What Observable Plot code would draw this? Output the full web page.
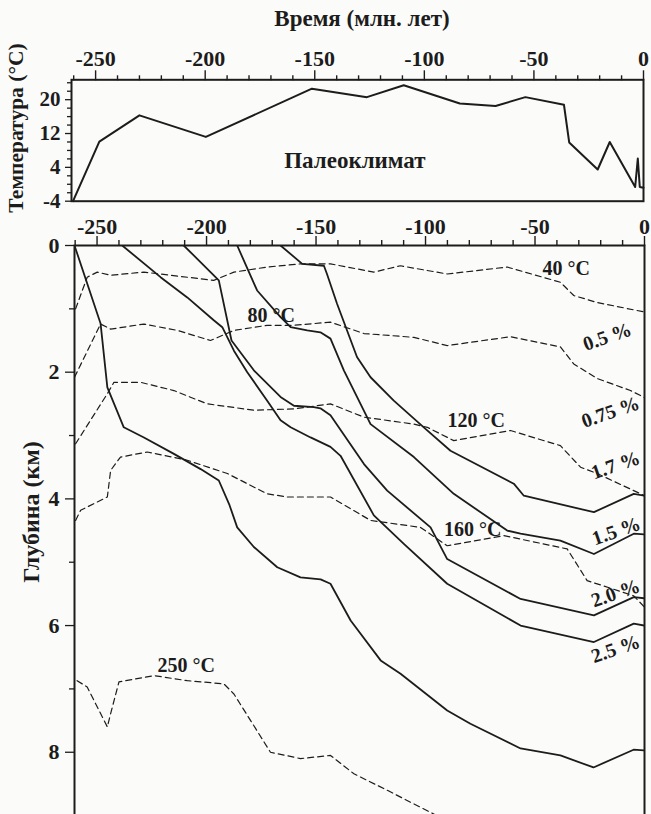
<!DOCTYPE html>
<html><head><meta charset="utf-8">
<script src="https://cdn.jsdelivr.net/npm/d3@7"></script>
<script src="https://cdn.jsdelivr.net/npm/@observablehq/plot@0.6"></script>
<style>
body{margin:0;background:#fbfbf9;}
#wrap{position:relative;width:651px;height:814px;overflow:hidden;font-family:"Liberation Serif","Times New Roman",serif;font-weight:bold;color:#1c1c1c;}
.lab{position:absolute;white-space:nowrap;font-size:23px;line-height:1;}
.rot{transform:translate(-50%,-50%) rotate(-90deg);}
#topPlot{position:absolute;left:0;top:0;}
#botPlot{position:absolute;left:0;top:205px;}
</style>
</head><body>
<div id="wrap">
  <div id="topPlot"></div>
  <div id="botPlot"></div>
  <div class="lab" id="title" style="left:362px;top:7px;transform:translateX(-50%);">Время (млн. лет)</div>
  <div class="lab rot" style="left:17px;top:128px;font-size:21.5px;">Температура (°C)</div>
  <div class="lab rot" style="left:31px;top:512px;font-size:24px;">Глубина (км)</div>
</div>
<script>
// ---- tick values ----
const xMajor = [-250, -200, -150, -100, -50, 0];
const xMinor = [-260, -240, -230, -220, -210, -190, -180, -170, -160, -140, -130, -120, -110, -90, -80, -70, -60, -40, -30, -20, -10];
const tempMajor = [-4, 4, 12, 20];
const tempMinor = [-2, 0, 2, 6, 8, 10, 14, 16, 18, 22, 24];
const depthMajor = [0, 2, 4, 6, 8];
const depthMinor = [1, 3, 5, 7];

// ---- paleoclimate (top panel) ----
const tempT = [-260.3, -248.3, -230, -199.7, -151.3, -126.2, -109.4, -83.8, -67.5, -53.9, -36.3, -33.9, -20.9, -15.4, -3.8, -2.6, -1.7, 0];
const tempV = [-4, 10.1, 16.3, 11.2, 22.6, 20.6, 23.4, 19.1, 18.5, 20.6, 18.8, 9.9, 3.5, 10.0, -0.65, 6.1, -0.65, -0.8];
const climLabel = ["Палеоклимат"];
const climT = [-131.7];
const climV = [5.7];

// ---- burial curves (solid) ----
const burA_t = [-260.3, -248.4, -245.3, -237.8, -228.6, -214.9, -202.7, -194.4, -189.5, -186, -178.4, -167.7, -157.1, -147.9, -143.4, -134.2, -120.5, -111.4, -90.1, -79.5, -56.6, -38.4, -23.3, -5, 0];
const burA_d = [0, 1.23, 2.24, 2.87, 3.03, 3.29, 3.53, 3.71, 4.1, 4.45, 4.76, 5.08, 5.24, 5.27, 5.34, 5.92, 6.55, 6.76, 7.34, 7.55, 7.94, 8.05, 8.24, 7.96, 7.97];
const burB_t = [-238.5, -221, -208.8, -196.7, -192.8, -187.5, -181.4, -172.3, -166.2, -161.6, -152.5, -143.4, -138.8, -123.6, -109.9, -90.1, -56.6, -23.1, -4.9, 0];
const burB_d = [0, 0.5, 0.82, 1.18, 1.29, 1.66, 2.0, 2.45, 2.76, 2.87, 3.03, 3.18, 3.32, 4.26, 4.71, 5.34, 6.0, 6.26, 5.97, 6.0];
const burC_t = [-210.4, -194.4, -188.6, -178.4, -166.2, -160.1, -151, -148, -143.4, -128.1, -117.5, -97.7, -90.1, -56.6, -23.1, -4.9, 0];
const burC_d = [0, 0.55, 1.5, 1.97, 2.39, 2.53, 2.55, 2.57, 2.68, 3.45, 3.87, 4.45, 4.95, 5.58, 5.84, 5.55, 5.57];
const burD_t = [-186, -176.9, -166.2, -161.6, -154, -148, -143.4, -137.3, -125.1, -105.3, -87.1, -62.7, -56.6, -38.4, -23.1, -4.9, 0];
const burD_d = [0, 0.71, 1.13, 1.29, 1.34, 1.37, 1.47, 1.97, 2.82, 3.34, 3.92, 4.5, 4.55, 4.66, 4.87, 4.55, 4.56];
const burE_t = [-166.2, -156.3, -146.4, -145, -140.4, -131.3, -125.1, -114.5, -100.8, -88.6, -59.7, -55.1, -23.1, -4.9, 0];
const burE_d = [0, 0.29, 0.32, 0.45, 0.92, 1.76, 2.08, 2.45, 2.87, 3.24, 3.76, 3.95, 4.21, 3.92, 3.95];

// ---- isotherms (dashed) ----
const iso40_t = [-259.8, -254.5, -249.9, -243.8, -228.6, -196.7, -187.5, -172.3, -157.1, -143.4, -123.6, -111.4, -90.1, -62.7, -38.4, -32.3, -21.6, 0];
const iso40_d = [1.0, 0.5, 0.42, 0.47, 0.42, 0.55, 0.42, 0.34, 0.29, 0.29, 0.42, 0.32, 0.45, 0.34, 0.58, 0.79, 0.9, 1.05];
const iso80_t = [-260.3, -248.4, -243.8, -228.6, -213.4, -198.2, -187.5, -172.3, -160.1, -143.4, -128.1, -105.3, -90.1, -61.2, -38.4, -32.3, -21.6, -6.4, 0];
const iso80_d = [2.08, 1.24, 1.32, 1.24, 1.34, 1.5, 1.34, 1.26, 1.26, 1.21, 1.39, 1.45, 1.58, 1.44, 1.6, 1.87, 2.1, 2.29, 2.4];
const iso120_t = [-259.8, -245.3, -242.3, -230.1, -214.9, -199.7, -178.4, -160.1, -143.4, -128.1, -105.3, -99.2, -87.1, -61.2, -38.4, -29.2, -21.6, -1.8, 0];
const iso120_d = [3.13, 2.34, 2.16, 2.16, 2.29, 2.5, 2.6, 2.58, 2.5, 2.71, 2.82, 2.87, 3.08, 2.92, 3.16, 3.5, 3.6, 3.92, 3.95];
const iso160_t = [-259.8, -257.5, -245.3, -243.8, -239.3, -227.1, -208.8, -190.5, -172.3, -163.2, -143.4, -125.1, -102.3, -90.1, -64.2, -35.3, -26.2, -4.9, 0];
const iso160_d = [4.34, 4.18, 3.97, 3.55, 3.34, 3.26, 3.39, 3.6, 3.92, 3.97, 3.97, 4.34, 4.45, 4.74, 4.58, 4.79, 5.29, 5.53, 5.71];
const iso250_t = [-259.1, -254.5, -245.3, -243.8, -240, -224, -208.8, -192.1, -187.5, -170.8, -157.1, -143.4, -132.7, -117.5, -97.7, -92];
const iso250_d = [6.87, 6.97, 7.6, 7.39, 6.89, 6.79, 6.87, 6.92, 7.08, 8.0, 8.1, 8.05, 8.34, 8.6, 8.95, 9.05];

// ---- annotations ----
const isoLabels = ["40 °C", "80 °C", "120 °C", "160 °C", "250 °C"];
const isoLabT = [-35.8, -170.5, -76.9, -78.4, -209.3];
const isoLabD = [0.37, 1.1, 2.76, 4.49, 6.63];
const pctLabels = ["0.5 %", "0.75 %", "1.7 %", "1.5 %", "2.0 %", "2.5 %"];
const pctLabT = [-17, -15.5, -13.2, -12.9, -13.2, -13.2];
const pctLabD = [1.44, 2.63, 3.47, 4.51, 5.49, 6.37];

// ---- build tables ----
const rows = (name, t, v) => t.map((ti, i) => ({name, t: ti, v: v[i]}));
const tempRows = rows("temp", tempT, tempV);
const burial = [
  ...rows("A", burA_t, burA_d), ...rows("B", burB_t, burB_d), ...rows("C", burC_t, burC_d),
  ...rows("D", burD_t, burD_d), ...rows("E", burE_t, burE_d)
];
const isotherms = [
  ...rows("40", iso40_t, iso40_d), ...rows("80", iso80_t, iso80_d), ...rows("120", iso120_t, iso120_d),
  ...rows("160", iso160_t, iso160_d), ...rows("250", iso250_t, iso250_d)
];
const isoLab = isoLabels.map((s, i) => ({s, t: isoLabT[i], v: isoLabD[i]}));
const pctLab = pctLabels.map((s, i) => ({s, t: pctLabT[i], v: pctLabD[i]}));
const climLab = climLabel.map((s, i) => ({s, t: climT[i], v: climV[i]}));

const INK = "#1c1c1c";
const FONT = '"Liberation Serif","Times New Roman",serif';
const fmt = d => String(d);
const blank = () => "";

const topChart = Plot.plot({
  width: 651, height: 205,
  marginTop: 79.3, marginBottom: 4.3, marginLeft: 71, marginRight: 8,
  x: {domain: [-261, 0]},
  y: {domain: [-4, 24.7]},
  style: {background: "transparent", fontFamily: FONT, color: INK, overflow: "visible"},
  marks: [
    Plot.frame({stroke: INK, strokeWidth: 2}),
    Plot.axisX({anchor: "top", ticks: xMinor, tickSize: 5, tickFormat: blank, stroke: INK, strokeWidth: 1.4, label: null}),
    Plot.axisX({anchor: "top", ticks: xMajor, tickSize: 10, tickPadding: 4, tickFormat: fmt, fontSize: 22, fontWeight: "bold", fill: INK, stroke: INK, strokeWidth: 1.4, label: null}),
    Plot.axisY({anchor: "left", ticks: tempMinor, tickSize: 4, tickFormat: blank, stroke: INK, strokeWidth: 1.3, label: null}),
    Plot.axisY({anchor: "left", ticks: tempMajor, tickSize: 6, tickPadding: 5, tickFormat: fmt, fontSize: 21, fontWeight: "bold", fill: INK, stroke: INK, strokeWidth: 1.3, label: null}),
    Plot.line(tempRows, {x: "t", y: "v", stroke: INK, strokeWidth: 2}),
    Plot.text(climLab, {x: "t", y: "v", text: "s", fontSize: 23, fontWeight: "bold", fill: INK})
  ]
});
document.getElementById("topPlot").appendChild(topChart);

const botChart = Plot.plot({
  width: 651, height: 611,
  marginTop: 40, marginBottom: 0.9, marginLeft: 74, marginRight: 7,
  x: {domain: [-260.3, 0]},
  y: {domain: [0, 9], reverse: true},
  style: {background: "transparent", fontFamily: FONT, color: INK, overflow: "visible"},
  marks: [
    Plot.frame({stroke: INK, strokeWidth: 2}),
    Plot.axisX({anchor: "top", ticks: xMinor, tickSize: 6, tickFormat: blank, stroke: INK, strokeWidth: 1.4, label: null}),
    Plot.axisX({anchor: "top", ticks: xMajor, tickSize: 10, tickPadding: 2, tickFormat: fmt, fontSize: 22, fontWeight: "bold", fill: INK, stroke: INK, strokeWidth: 1.4, label: null}),
    Plot.axisY({anchor: "left", ticks: depthMinor, tickSize: 5, tickFormat: blank, stroke: INK, strokeWidth: 1.3, label: null}),
    Plot.axisY({anchor: "left", ticks: depthMajor, tickSize: 9, tickPadding: 6, tickFormat: fmt, fontSize: 22, fontWeight: "bold", fill: INK, stroke: INK, strokeWidth: 1.3, label: null}),
    Plot.line(isotherms, {x: "t", y: "v", z: "name", stroke: INK, strokeWidth: 1.2, strokeDasharray: "6,4", clip: true}),
    Plot.line(burial, {x: "t", y: "v", z: "name", stroke: INK, strokeWidth: 1.8, clip: true}),
    Plot.text(isoLab, {x: "t", y: "v", text: "s", fontSize: 20, fontWeight: "bold", fill: INK}),
    Plot.text(pctLab, {x: "t", y: "v", text: "s", fontSize: 20, fontWeight: "bold", fill: INK, rotate: -19})
  ]
});
document.getElementById("botPlot").appendChild(botChart);
</script>
</body></html>
